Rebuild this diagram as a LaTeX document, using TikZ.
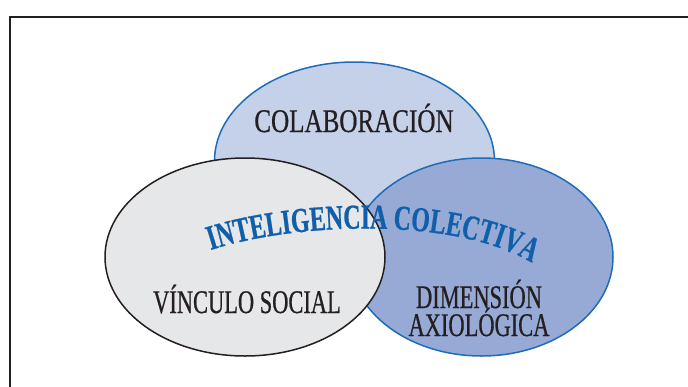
\documentclass[tikz,border=0pt]{standalone}
\usepackage{fontspec}
\newfontfamily\labelfont[FakeStretch=0.68, FakeBold=0.6]{Liberation Serif}
\newfontfamily\widefont[FakeStretch=0.76, FakeBold=0.6]{Liberation Serif}
\usetikzlibrary{shapes.geometric,decorations.text}
\definecolor{lineblue}{HTML}{1E6BB8}
\definecolor{textblue}{HTML}{0F5FAA}
\definecolor{inkblack}{HTML}{231F20}
\definecolor{topfill}{HTML}{C5D0E9}
\definecolor{rightfill}{HTML}{97AAD6}
\definecolor{leftfill}{HTML}{E6E7E8}
\tikzset{
	venn/.style     = {draw, ellipse, line width=1.5pt, inner sep=0pt,
		minimum width=280pt, minimum height=198pt},
	bluevenn/.style = {venn, draw=lineblue},
	greyvenn/.style = {venn, draw=inkblack},
	tag/.style      = {text=inkblack, anchor=base, inner sep=0pt,
		font=\labelfont\fontsize{33}{33}\selectfont}
}
\newcommand{\arcfont}{\labelfont\bfseries\fontsize{35}{35}\selectfont\color{textblue}}

\begin{document}
\begin{tikzpicture}[x=1pt, y=-1pt]
	\useasboundingbox (0,0) rectangle (688,386);
	\clip (0,0) rectangle (688,386);
	% frame, cut by the page on the right and at the bottom
	\draw[inkblack, line width=2.5pt] (10,400) -- (10,17) -- (700,17);
	
	\draw
	node at (354.5,161)[bluevenn, fill=topfill] (colab) {}
	node at (481.5,257)[bluevenn, fill=rightfill, minimum width=263pt] (axio) {}
	node at (245,257)[greyvenn, fill=leftfill] (social) {};
	
	\node[tag, font=\widefont\fontsize{33}{33}\selectfont] (colabtext) at (354,132) {COLABORACIÓN};
	\node[tag] (socialtext) at (247,313) {VÍNCULO SOCIAL};
	\node[tag] (dimtext) at (479,308) {DIMENSIÓN};
	\node[tag] (axiotext) at (479,336) {AXIOLÓGICA};
	
	\path[decorate, decoration={text along path, text align=center,
		text={|\arcfont|INTELIGENCIA COLECTIVA}}]
	(205,252) .. controls (290,222) and (460,215) .. (537,266);
\end{tikzpicture}
\end{document}
